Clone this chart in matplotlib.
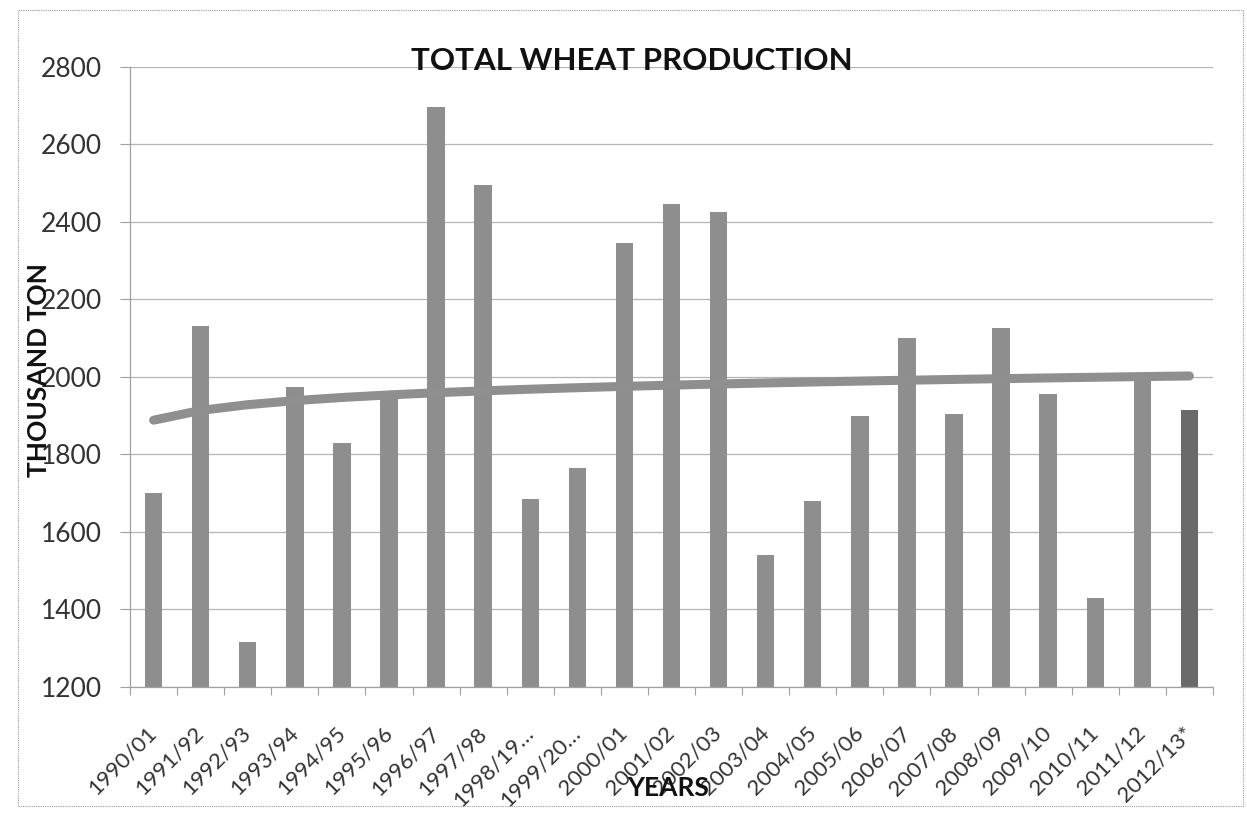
import numpy as np
import matplotlib
matplotlib.use("Agg")
import matplotlib.pyplot as plt
from matplotlib.patches import Rectangle


seasons = ["1990/01", "1991/92", "1992/93", "1993/94", "1994/95", "1995/96",
           "1996/97", "1997/98", "1998/19…", "1999/20…", "2000/01", "2001/02",
           "2002/03", "2003/04", "2004/05", "2005/06", "2006/07", "2007/08",
           "2008/09", "2009/10", "2010/11", "2011/12", "2012/13*"]
production = [1700, 2130, 1315, 1975, 1830, 1955, 2695, 2495, 1685, 1765, 2345, 2445,
              2425, 1540, 1680, 1900, 2100, 1905, 2125, 1955, 1430, 1995, 1915]
y_ticks = [1200, 1400, 1600, 1800, 2000, 2200, 2400, 2600, 2800]

plt.rcParams["font.family"] = ["Lato", "DejaVu Sans"]

fig = plt.figure(figsize=(12.47, 8.13), dpi=100)
ax = fig.add_axes([0.1043, 0.155, 0.8684, 0.763])

x = np.arange(1, len(production) + 1)
colors = ["#8e8e8e"] * (len(production) - 1) + ["#6a6a6a"]
ax.bar(x, production, width=0.37, color=colors, zorder=2)

# logarithmic trendline fitted to the bars
b, a = np.polyfit(np.log(x), production, 1)
ax.plot(x, a + b * np.log(x), color="#8f8f8f", lw=6.5, solid_capstyle="round", zorder=3)

ax.set_xlim(0.5, len(production) + 0.5)
ax.set_ylim(1200, 2800)
ax.set_yticks(y_ticks)
ax.set_yticklabels([str(v) for v in y_ticks], fontsize=19, color="#333333")
ax.tick_params(axis="y", length=7, width=0.8, color="#a0a0a0", pad=13)

ax.set_xticks(x)
ax.set_xticklabels(seasons, fontsize=16, color="#333333", rotation=45,
                   ha="right", va="center", rotation_mode="anchor")
ax.tick_params(axis="x", length=0, pad=31)
ax.set_xticks(np.arange(0.5, len(production) + 1), minor=True)
ax.tick_params(axis="x", which="minor", length=6, width=0.8, color="#a0a0a0")

ax.grid(axis="y", color="#b4b4b4", lw=0.9, zorder=0)
for side in ["top", "right"]:
    ax.spines[side].set_visible(False)
for side in ["left", "bottom"]:
    ax.spines[side].set_color("#a0a0a0")
    ax.spines[side].set_linewidth(0.9)

fig.text(0.507, 0.925, "TOTAL WHEAT PRODUCTION", fontsize=22.5, fontweight="bold",
         ha="center", va="center", color="#111111")
fig.text(0.031, 0.545, "THOUSAND TON", fontsize=19, fontweight="bold",
         rotation=90, ha="center", va="center", color="#111111")
fig.text(0.536, 0.031, "YEARS", fontsize=19, fontweight="bold",
         ha="center", va="center", color="#111111")

# chart area border
fig.patches.append(Rectangle((18 / 1247, 7 / 813), 1225 / 1247, 796 / 813,
                             transform=fig.transFigure, fill=False,
                             edgecolor="#9a9a9a", lw=0.8, ls=(0, (1, 1))))

fig.savefig("out.png", dpi=100)
